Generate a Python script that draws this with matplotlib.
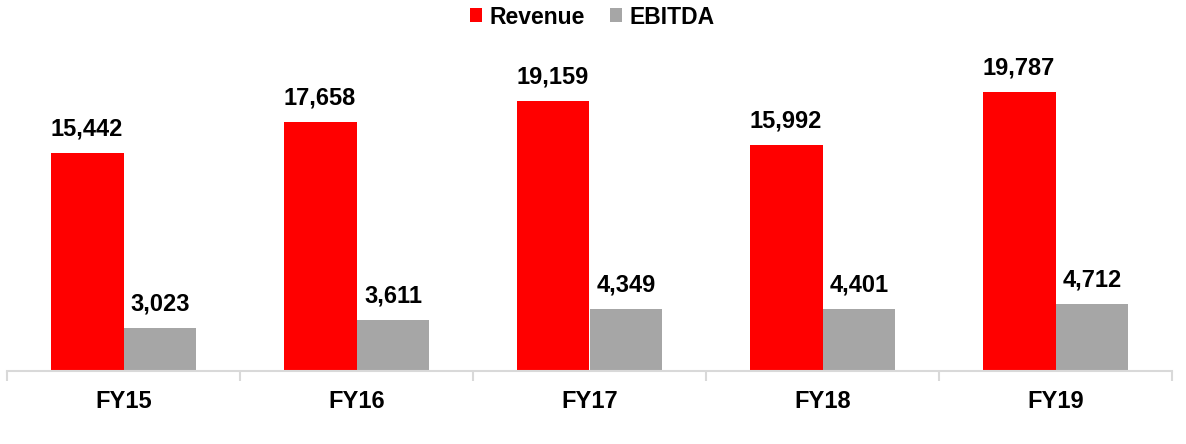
import matplotlib
matplotlib.use("Agg")
import matplotlib.pyplot as plt
import numpy as np
from matplotlib.ticker import FixedLocator

categories = ["FY15", "FY16", "FY17", "FY18", "FY19"]
revenue = [15442, 17658, 19159, 15992, 19787]
ebitda = [3023, 3611, 4349, 4401, 4712]

plt.rcParams['font.family'] = ['Liberation Sans', 'DejaVu Sans']
plt.rcParams['font.weight'] = 'bold'

fig = plt.figure(figsize=(11.86, 4.44), dpi=100)
ax = fig.add_axes([7/1186, (444-370.5)/444, (1172-7)/1186, 324/444])

x = np.arange(len(categories))
w = 0.313
b1 = ax.bar(x - w/2, revenue, w, color="#ff0000", label="Revenue")
b2 = ax.bar(x + w/2, ebitda, w, color="#a6a6a6", label="EBITDA")

for bars, vals in ((b1, revenue), (b2, ebitda)):
    for r, v in zip(bars, vals):
        ax.annotate(f"{v:,}", (r.get_x() + r.get_width()/2, r.get_height()),
                    xytext=(0, 9), textcoords="offset points",
                    ha="center", va="bottom", fontsize=17, fontweight="bold")

ax.set_xlim(-0.5, len(categories) - 0.5)
ax.set_ylim(0, 23000)
ax.set_xticks(x)
ax.set_xticklabels(categories, fontsize=17, fontweight="bold")
ax.tick_params(axis="x", which="major", length=0, pad=14)
ax.xaxis.set_minor_locator(FixedLocator(np.arange(-0.5, len(categories), 1.0)))
ax.tick_params(axis="x", which="minor", length=7, width=1.5, color="#d9d9d9", direction="out")
ax.set_yticks([])
for s in ("top", "right", "left"):
    ax.spines[s].set_visible(False)
ax.spines["bottom"].set_color("#d9d9d9")
ax.spines["bottom"].set_linewidth(1.5)

leg = fig.legend(loc="center", bbox_to_anchor=(592/1186, 1 - 17/444), ncol=2, frameon=False,
                 prop={"family": "Liberation Sans", "weight": "bold", "size": 16.5},
                 handlelength=0.55, handleheight=0.55, handletextpad=0.3, columnspacing=1.1,
                 borderaxespad=0, borderpad=0)

fig.savefig("out.png", dpi=100)
